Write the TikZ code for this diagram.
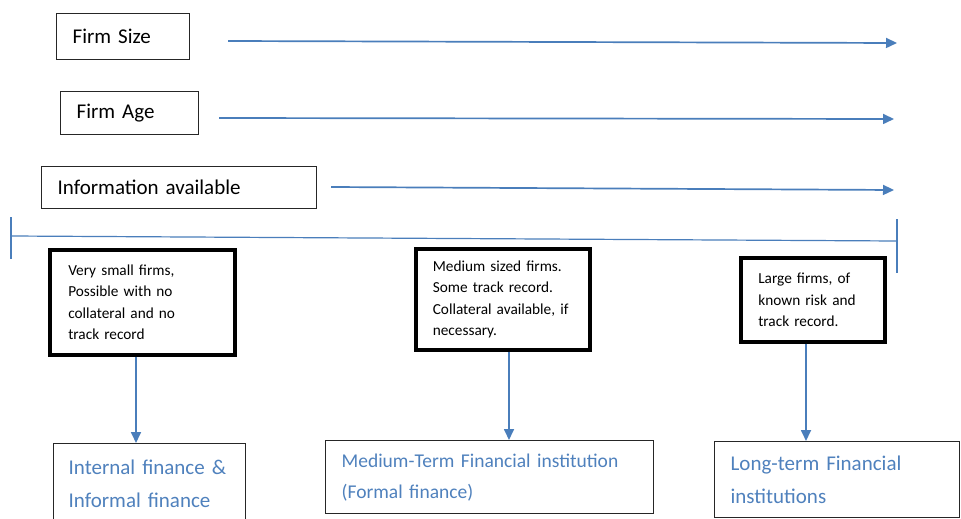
\documentclass[tikz,border=0pt]{standalone}
\usepackage{fontspec}
\setmainfont{Carlito}
\usetikzlibrary{arrows.meta}
\definecolor{lineblue}{HTML}{4A7EBB}
\definecolor{textblue}{HTML}{4F81BD}
\begin{document}
\begin{tikzpicture}[x=1pt,y=-1pt,
  topbox/.style={draw=black!85, line width=1.3pt, anchor=north west, inner ysep=0pt,
    align=left, font=\fontsize{21}{25}\selectfont},
  blackbox/.style={draw=black, line width=3.6pt, anchor=north west, inner ysep=0pt,
    align=left, font=\fontsize{15.3}{21.5}\selectfont},
  finbox/.style={draw=black!85, line width=1.3pt, anchor=north west, inner ysep=0pt,
    align=left, text=textblue},
  bigfin/.style={font=\fontsize{21}{33}\selectfont},
  smallfin/.style={font=\fontsize{19.5}{31}\selectfont},
  blarrow/.style={draw=lineblue, line width=1.7pt, -{Triangle[length=11pt,width=10pt]}},
  tline/.style={draw=lineblue, line width=1.2pt}]
\useasboundingbox (0,0) rectangle (961,519);
\fill[white] (0,0) rectangle (961,519);

% top boxes
\node[topbox, inner xsep=16pt, text width=101pt, minimum height=46pt] (size) at (56,13) {Firm Size};
\node[topbox, inner xsep=16pt, text width=106pt, minimum height=43pt] (age) at (60,91) {Firm Age};
\node[topbox, inner xsep=16pt, text width=243pt, minimum height=42pt] (info) at (41,166) {Information available};

% top arrows
\coordinate (s1) at (228,41);  \coordinate (s2) at (897,43);
\coordinate (a1) at (219,118); \coordinate (a2) at (894,119);
\coordinate (i1) at (331,187); \coordinate (i2) at (894,190);
\draw[blarrow] (s1) -- (s2);
\draw[blarrow] (a1) -- (a2);
\draw[blarrow] (i1) -- (i2);

% timeline
\coordinate (tl) at (11,236); \coordinate (tr) at (897,241);
\coordinate (tlt) at (11,217); \coordinate (tlb) at (11,259);
\coordinate (trt) at (897,219); \coordinate (trb) at (897,273);
\draw[tline] (tl) -- (tr);
\draw[tline] (tlt) -- (tlb);
\draw[tline] (trt) -- (trb);

% black boxes
\node[blackbox, inner xsep=18.5pt, text width=148pt, minimum height=105pt] (b1) at (48,248)
  {Very small firms,\\Possible with no\\collateral and no\\track record};
\node[blackbox, inner xsep=17pt, text width=140pt, minimum height=101pt] (b2) at (414,247)
  {Medium sized firms.\\Some track record.\\Collateral available, if\\necessary.};
\node[blackbox, inner xsep=17.5pt, text width=109pt, minimum height=84pt] (b3) at (739,256)
  {Large firms, of\\known risk and\\track record.};

% bottom boxes
\node[finbox, bigfin, inner xsep=15pt, text width=162pt, minimum height=80pt] (f1) at (53,443)
  {Internal finance \&\\Informal finance};
\node[finbox, smallfin, inner xsep=16pt, text width=296pt, minimum height=73pt] (f2) at (325,440)
  {Medium-Term Financial institution\\(Formal finance)};
\node[finbox, bigfin, inner xsep=16pt, text width=213pt, minimum height=76pt] (f3) at (714,441)
  {Long-term Financial\\institutions};

% vertical arrows
\draw[blarrow] (b1.south -| 136,0) -- (f1.north -| 136,0);
\draw[blarrow] (b2.south -| 509,0) -- (f2.north -| 509,0);
\draw[blarrow] (b3.south -| 806,0) -- (f3.north -| 806,0);
\end{tikzpicture}
\end{document}
